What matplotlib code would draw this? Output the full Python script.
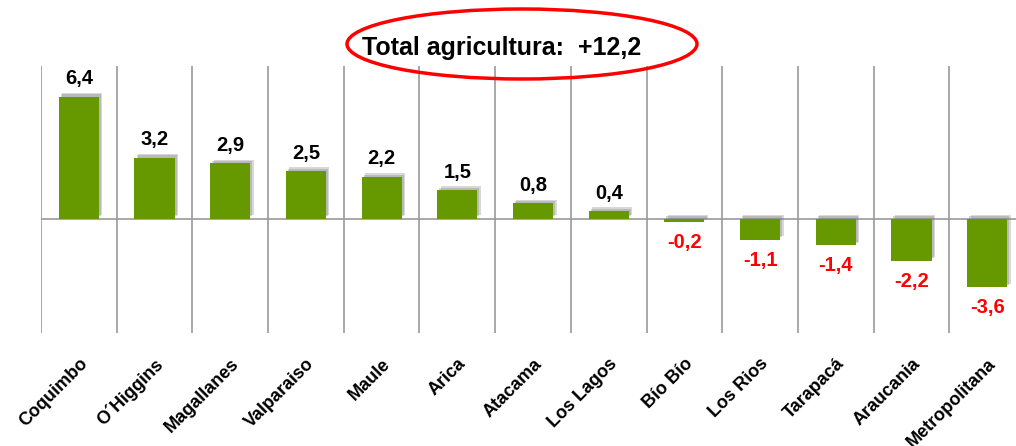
import matplotlib
matplotlib.use("Agg")
import matplotlib.pyplot as plt
import matplotlib.patheffects as pe
from matplotlib.patches import Ellipse
import numpy as np

regions = ["Coquimbo", "O´Higgins", "Magallanes", "Valparaiso", "Maule", "Arica",
           "Atacama", "Los Lagos", "Bío Bío", "Los Rios", "Tarapacá", "Araucania",
           "Metropolitana"]
values = [6.4, 3.2, 2.9, 2.5, 2.2, 1.5, 0.8, 0.4, -0.2, -1.1, -1.4, -2.2, -3.6]
labels = ["6,4", "3,2", "2,9", "2,5", "2,2", "1,5", "0,8", "0,4", "-0,2", "-1,1",
          "-1,4", "-2,2", "-3,6"]
total_text = "Total agricultura:  +12,2"

plt.rcParams["font.family"] = ["Liberation Sans", "DejaVu Sans"]

fig = plt.figure(figsize=(10.16, 4.46), dpi=100)
ax = fig.add_axes([41 / 1016, 113 / 446, 984 / 1016, 267 / 446])

x = np.arange(len(regions))
# soft shadow up-right of each bar
shadow = [pe.SimplePatchShadow(offset=(2.5, 2.5), shadow_rgbFace="#808080", alpha=0.3),
          pe.SimplePatchShadow(offset=(1.5, 1.5), shadow_rgbFace="#808080", alpha=0.35),
          pe.Normal()]
bars = ax.bar(x, values, width=0.53, color="#669900", zorder=3)
for b in bars:
    b.set_path_effects(shadow)

for xi, v, lab in zip(x, values, labels):
    if v >= 0:
        ax.annotate(lab, (xi, v), xytext=(0, 6), textcoords="offset points",
                    ha="center", va="bottom", fontsize=14.5, fontweight="bold",
                    color="black")
    else:
        ax.annotate(lab, (xi, v), xytext=(0, -8), textcoords="offset points",
                    ha="center", va="top", fontsize=14.5, fontweight="bold",
                    color="#ff0000")

ax.set_xlim(-0.5, len(regions) - 0.5)
ax.set_ylim(-6, 8)
ax.axhline(0, color="#9a9a9a", lw=1.2, zorder=2)
ax.set_xticks(x)
ax.set_xticklabels(regions, rotation=45, ha="right", rotation_mode="anchor",
                   fontsize=13, fontweight="bold")
ax.set_xticks(np.arange(-0.5, len(regions), 1), minor=True)
ax.tick_params(axis="x", which="major", length=0, pad=16)
ax.tick_params(axis="x", which="minor", length=0)
ax.grid(which="minor", axis="x", color="#9a9a9a", lw=1.2, zorder=1)
ax.set_yticks([])
for s in ax.spines.values():
    s.set_visible(False)

fig.text(502 / 1016, 1 - 48 / 446, total_text, ha="center", va="center",
         fontsize=18, fontweight="bold")
ell = Ellipse((522 / 1016, 1 - 44 / 446), 350 / 1016, 70 / 446,
              transform=fig.transFigure, fill=False, edgecolor="#ff0000", lw=2.5)
fig.add_artist(ell)

fig.savefig("out.png", dpi=100)
